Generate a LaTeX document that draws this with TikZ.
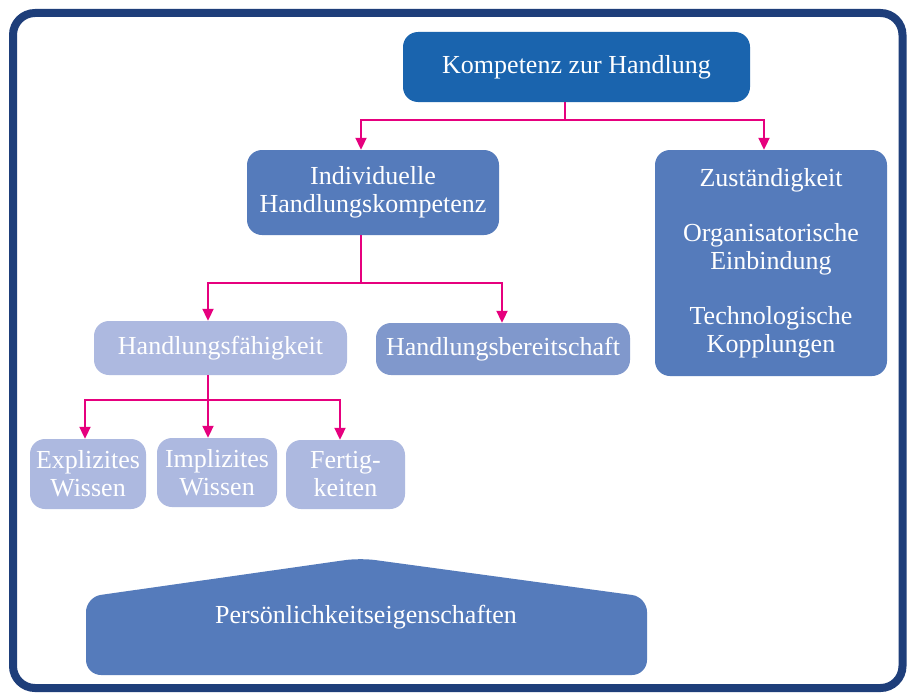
\documentclass[tikz,border=0pt]{standalone}
\usepackage{fontspec}
\setmainfont{Liberation Serif}
\usetikzlibrary{arrows.meta}
\definecolor{framecol}{RGB}{30,62,122}
\definecolor{topcol}{RGB}{26,100,174}
\definecolor{midcol}{RGB}{85,123,187}
\definecolor{lightcol}{RGB}{173,185,224}
\definecolor{bercol}{RGB}{128,152,204}
\definecolor{pinkcol}{RGB}{230,0,126}
\tikzset{
  box/.style={rounded corners=15pt, inner sep=0pt, text=white, align=center,
    font=\fontsize{26}{28}\selectfont},
  conn/.style={draw=pinkcol, line width=2pt},
  arr/.style={conn, -{Triangle[length=12pt,width=11pt]}},
}
\begin{document}
\begin{tikzpicture}[x=1pt,y=-1pt]
\useasboundingbox (0,0) rectangle (909,693);
\fill[white] (0,0) rectangle (909,693);
\draw[line width=8pt, framecol, rounded corners=22pt] (13,13) rectangle (902.5,688);

\node[box, fill=topcol, minimum width=347pt, minimum height=70pt] (top) at (576.5,67) {Kompetenz zur Handlung};
\node[box, fill=midcol, minimum width=252pt, minimum height=85pt] (ind) at (373,192.5) {Individuelle\\Handlungskompetenz};
\node[box, fill=midcol, minimum width=232pt, minimum height=226pt] (zus) at (771,263) {Zuständigkeit\\[27pt]Organisatorische\\Einbindung\\[27pt]Technologische\\Kopplungen};
\node[box, fill=lightcol, minimum width=253pt, minimum height=54pt] (hf) at (220.5,348) {Handlungsfähigkeit};
\node[box, fill=bercol, minimum width=254pt, minimum height=52pt] (hb) at (503,349) {Handlungsbereitschaft};
\node[box, fill=lightcol, minimum width=116pt, minimum height=70pt] (ex) at (88,474) {Explizites\\Wissen};
\node[box, fill=lightcol, minimum width=120pt, minimum height=69pt] (im) at (217,472.5) {Implizites\\Wissen};
\node[box, fill=lightcol, minimum width=119pt, minimum height=69pt] (fe) at (345.5,474.5) {Fertig-\\keiten};

% connectors
\draw[conn] ([xshift=-11.5pt]top.south) -- ++(0,18) coordinate (j1);
\draw[arr] (j1) -| ([xshift=-12pt]ind.north);
\draw[arr] (j1) -| ([xshift=-7pt]zus.north);
\draw[conn] ([xshift=-12pt]ind.south) -- ++(0,48) coordinate (j2);
\draw[arr] (j2) -| ([xshift=-12.5pt]hf.north);
\draw[arr] (j2) -| ([xshift=-1pt]hb.north);
\draw[conn] ([xshift=-12.5pt]hf.south) -- ++(0,25) coordinate (j3);
\draw[arr] (j3) -| ([xshift=-3pt]ex.north);
\draw[arr] (j3) -| ([xshift=-9pt]im.north);
\draw[arr] (j3) -| ([xshift=-5.5pt]fe.north);

% bottom shape
\fill[midcol, rounded corners=15pt] (360,558) -- (647,597) -- (647,675) -- (86,675) -- (86,597) -- cycle;
\node[anchor=base, text=white, inner sep=0pt, font=\fontsize{26}{28}\selectfont] (pers) at (366,623) {Persönlichkeitseigenschaften};
\end{tikzpicture}
\end{document}
